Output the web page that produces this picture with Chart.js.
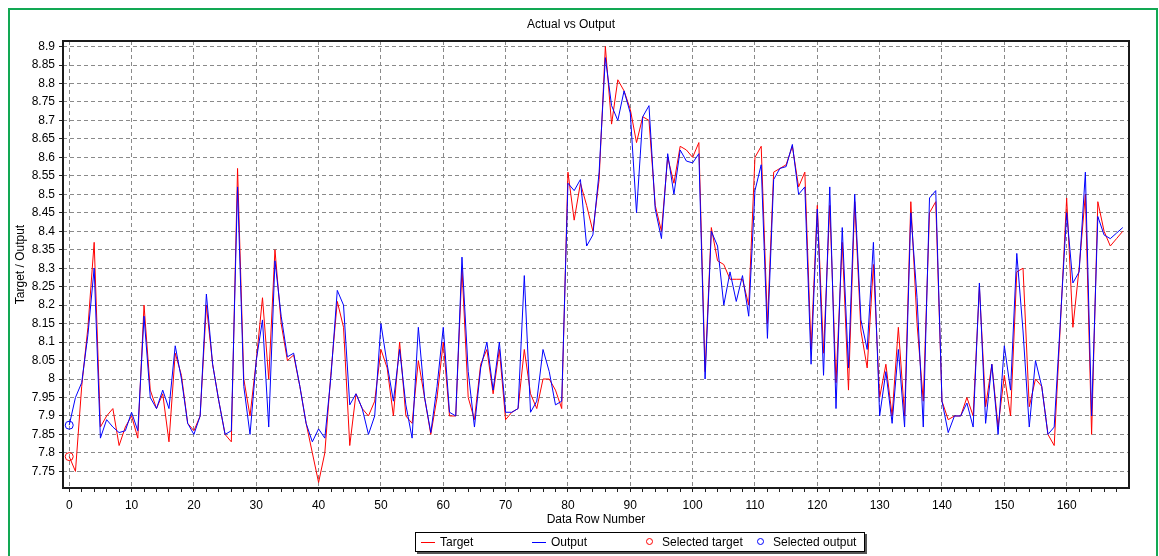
<!DOCTYPE html>
<html lang="en">
<head>
<meta charset="UTF-8">
<title>Actual vs Output</title>
<script src="https://cdn.jsdelivr.net/npm/chart.js"></script>
<style>
    body {
        margin: 0;
        background: #fff;
        overflow: hidden;
        font-family: "Liberation Sans", Arial, sans-serif;
    }
    #wrap { position: relative; width: 1159px; height: 556px; overflow: hidden; }
    #frame {
        position: absolute; left: 8px; top: 8px;
        width: 1146px; height: 600px;
        border: 2px solid #12a853;
    }
    #chart { position: absolute; left: 0; top: 0; }
    #legend {
        position: absolute; left: 415px; top: 532px;
        width: 448px; height: 18px;
        border: 1px solid #000;
        background: #fff;
        box-shadow: 2px 2px 0 #555;
        display: flex;
        font-size: 12px; line-height: 18px; color: #000;
    }
    .item { position: relative; width: 111px; padding-left: 24px; box-sizing: border-box; white-space: nowrap; }
    .mk-line { position: absolute; left: 5px; top: 9px; width: 14px; height: 1px; }
    .mk-dot { position: absolute; left: 8px; top: 5px; width: 5px; height: 5px; border-radius: 50%; border: 1px solid; }
</style>
</head>
<body>
<div id="wrap">
    <div id="frame"></div>
    <canvas id="chart" width="1159" height="556"></canvas>
    <div id="legend"></div>
</div>

<script>
    // values, one per data row
    const targetValues = [
        7.79, 7.75, 7.98, 8.14, 8.37, 7.87, 7.90, 7.92, 7.82, 7.87,
        7.90, 7.84, 8.20, 7.97, 7.92, 7.96, 7.83, 8.07, 8.01, 7.88,
        7.86, 7.90, 8.20, 8.04, 7.94, 7.85, 7.83, 8.57, 8.00, 7.90,
        8.05, 8.22, 8.00, 8.35, 8.15, 8.05, 8.065, 7.98, 7.88, 7.80,
        7.72, 7.80, 8.02, 8.21, 8.14, 7.82, 7.96, 7.92, 7.90, 7.94,
        8.08, 8.03, 7.90, 8.10, 7.90, 7.88, 8.05, 7.95, 7.85, 7.95,
        8.10, 7.90, 7.90, 8.30, 7.95, 7.89, 8.04, 8.08, 7.96, 8.08,
        7.89, 7.91, 7.92, 8.08, 7.96, 7.92, 8.00, 8.00, 7.97, 7.92,
        8.56, 8.43, 8.53, 8.47, 8.40, 8.54, 8.90, 8.69, 8.81, 8.78,
        8.73, 8.64, 8.71, 8.70, 8.47, 8.40, 8.60, 8.53, 8.63, 8.62,
        8.60, 8.64, 8.02, 8.41, 8.32, 8.31, 8.27, 8.27, 8.27, 8.20,
        8.60, 8.63, 8.15, 8.56, 8.57, 8.58, 8.63, 8.52, 8.56, 8.08,
        8.47, 8.07, 8.47, 7.99, 8.37, 7.97, 8.48, 8.13, 8.03, 8.31,
        7.95, 8.04, 7.90, 8.14, 7.90, 8.48, 8.15, 7.94, 8.45, 8.48,
        7.94, 7.89, 7.90, 7.90, 7.95, 7.90, 8.25, 7.925, 8.04, 7.87,
        8.01, 7.90, 8.29, 8.30, 7.925, 8.00, 7.98, 7.85, 7.82, 8.15,
        8.49, 8.14, 8.30, 8.50, 7.85, 8.48, 8.40, 8.36, 8.38, 8.40
    ]
    const outputValues = [
        7.875, 7.95, 7.99, 8.12, 8.30, 7.84, 7.89, 7.87, 7.855, 7.86,
        7.91, 7.86, 8.17, 7.95, 7.92, 7.97, 7.92, 8.09, 8.00, 7.88,
        7.85, 7.90, 8.23, 8.04, 7.94, 7.85, 7.86, 8.52, 7.98, 7.85,
        8.05, 8.16, 7.87, 8.32, 8.17, 8.06, 8.07, 7.98, 7.88, 7.83,
        7.865, 7.84, 8.01, 8.24, 8.20, 7.93, 7.96, 7.92, 7.85, 7.90,
        8.15, 8.04, 7.94, 8.08, 7.93, 7.84, 8.14, 7.95, 7.855, 7.98,
        8.14, 7.91, 7.90, 8.33, 8.02, 7.87, 8.03, 8.10, 7.97, 8.10,
        7.91, 7.91, 7.92, 8.28, 7.91, 7.94, 8.08, 8.02, 7.93, 7.94,
        8.53, 8.51, 8.54, 8.36, 8.39, 8.56, 8.87, 8.74, 8.70, 8.78,
        8.72, 8.45, 8.71, 8.74, 8.46, 8.38, 8.61, 8.50, 8.62, 8.59,
        8.585, 8.61, 8.00, 8.40, 8.36, 8.20, 8.29, 8.21, 8.28, 8.17,
        8.51, 8.58, 8.11, 8.54, 8.57, 8.575, 8.635, 8.50, 8.52, 8.04,
        8.46, 8.01, 8.52, 7.92, 8.41, 8.03, 8.50, 8.16, 8.08, 8.37,
        7.90, 8.02, 7.88, 8.08, 7.87, 8.45, 8.22, 7.87, 8.49, 8.51,
        7.94, 7.855, 7.90, 7.90, 7.935, 7.87, 8.26, 7.88, 8.04, 7.85,
        8.09, 7.97, 8.34, 8.13, 7.87, 8.05, 7.98, 7.85, 7.87, 8.16,
        8.45, 8.26, 8.29, 8.56, 7.90, 8.44, 8.39, 8.38, 8.395, 8.41
    ]
    const rowNumbers = targetValues.map((_, i) => i)

    // the highlighted row (circles)
    const selectedRow = 0
    const selectedTarget = 7.79
    const selectedOutput = 7.875

    // axes
    const xLabelValues = [0, 10, 20, 30, 40, 50, 60, 70, 80, 90, 100, 110, 120, 130, 140, 150, 160]
    const xTickMarks = [0, 2, 4, 6, 8, 10, 12, 14, 16, 18, 20, 22, 24, 26, 28, 30, 32, 34, 36, 38, 40,
        42, 44, 46, 48, 50, 52, 54, 56, 58, 60, 62, 64, 66, 68, 70, 72, 74, 76, 78, 80,
        82, 84, 86, 88, 90, 92, 94, 96, 98, 100, 102, 104, 106, 108, 110, 112, 114, 116, 118, 120,
        122, 124, 126, 128, 130, 132, 134, 136, 138, 140, 142, 144, 146, 148, 150, 152, 154, 156, 158, 160,
        162, 164, 166, 168]
    const yTickValues = [7.75, 7.8, 7.85, 7.9, 7.95, 8, 8.05, 8.1, 8.15, 8.2, 8.25, 8.3, 8.35,
        8.4, 8.45, 8.5, 8.55, 8.6, 8.65, 8.7, 8.75, 8.8, 8.85, 8.9]

    const FONT = { family: '"Liberation Sans", Arial, sans-serif', size: 12, weight: 'normal' }
    const GRID = '#8a8a8a'

    const legendItems = [
        { text: 'Target', color: '#ff0000', kind: 'line' },
        { text: 'Output', color: '#0000ff', kind: 'line' },
        { text: 'Selected target', color: '#ff0000', kind: 'dot' },
        { text: 'Selected output', color: '#0000ff', kind: 'dot' }
    ]

    // dark frame round the plot
    const plotFrame = {
        id: 'plotFrame',
        afterDraw(c) {
            const a = c.chartArea
            const ctx = c.ctx
            ctx.save()
            ctx.strokeStyle = '#1b1b1b'
            ctx.lineWidth = 2
            ctx.strokeRect(a.left, a.top, a.right - a.left, a.bottom - a.top)
            ctx.restore()
        }
    }

    new Chart(document.getElementById('chart'), {
        type: 'line',
        data: {
            labels: rowNumbers,
            datasets: [
                {
                    label: 'Target', data: targetValues,
                    borderColor: '#ff0000', borderWidth: 1, pointRadius: 0, tension: 0, order: 2
                },
                {
                    label: 'Output', data: outputValues,
                    borderColor: '#0000ff', borderWidth: 1, pointRadius: 0, tension: 0, order: 1
                },
                {
                    label: 'Selected target', data: [{ x: selectedRow, y: selectedTarget }],
                    showLine: false, pointRadius: 4, pointBorderWidth: 1,
                    pointBorderColor: '#ff0000', pointBackgroundColor: 'rgba(0,0,0,0)', order: 0
                },
                {
                    label: 'Selected output', data: [{ x: selectedRow, y: selectedOutput }],
                    showLine: false, pointRadius: 4, pointBorderWidth: 1,
                    pointBorderColor: '#0000ff', pointBackgroundColor: 'rgba(0,0,0,0)', order: 0
                }
            ]
        },
        options: {
            responsive: false,
            animation: false,
            devicePixelRatio: 1,
            events: [],
            layout: { padding: { left: 13, right: 30, top: 0, bottom: 28 } },
            plugins: {
                legend: { display: false },
                tooltip: { enabled: false },
                title: {
                    display: true, text: 'Actual vs Output', color: '#000',
                    font: FONT, padding: { top: 17.5, bottom: 9.1 }
                }
            },
            scales: {
                x: {
                    type: 'linear', min: -1, max: 170,
                    afterFit(s) { s.height = 40 },
                    afterBuildTicks(s) { s.ticks = xTickMarks.map(v => ({ value: v })) },
                    ticks: {
                        autoSkip: false, maxRotation: 0, minRotation: 0, padding: 6,
                        color: '#000', font: FONT,
                        callback: v => xLabelValues.includes(v) ? String(v) : ''
                    },
                    grid: {
                        color: ctx => (ctx.tick && xLabelValues.includes(ctx.tick.value)) ? GRID : 'rgba(0,0,0,0)',
                        tickColor: '#222', tickLength: 4, lineWidth: 1
                    },
                    border: { display: false, dash: [4, 3] },
                    title: {
                        display: true, text: 'Data Row Number', color: '#000',
                        font: FONT, padding: { top: 0, bottom: 1 }
                    }
                },
                y: {
                    min: 7.705, max: 8.915,
                    afterFit(s) { s.width = 50 },
                    afterBuildTicks(s) { s.ticks = yTickValues.map(v => ({ value: v })) },
                    ticks: {
                        padding: 4, color: '#000', font: FONT,
                        callback: v => String(Number(v.toFixed(2)))
                    },
                    grid: { color: GRID, tickColor: '#222', tickLength: 4, lineWidth: 1 },
                    border: { display: false, dash: [4, 3] },
                    title: {
                        display: true, text: 'Target / Output', color: '#000',
                        font: FONT, padding: { top: 0, bottom: 0 }
                    }
                }
            }
        },
        plugins: [plotFrame]
    })

    document.getElementById('legend').innerHTML = legendItems.map(it => `
        <div class="item">
            <span class="${it.kind === 'line' ? 'mk-line' : 'mk-dot'}"
                  style="${it.kind === 'line' ? 'background:' + it.color : 'border-color:' + it.color}"></span>${it.text}
        </div>`).join('')
</script>
</body>
</html>
